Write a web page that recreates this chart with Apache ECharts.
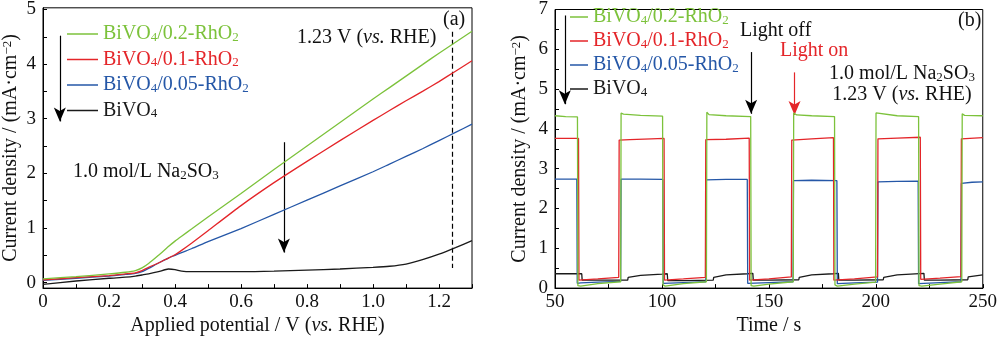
<!DOCTYPE html>
<html>
<head>
<meta charset="utf-8">
<script src="https://cdn.jsdelivr.net/npm/echarts@6/dist/echarts.min.js"></script>
<style>
html,body{margin:0;padding:0;background:#fff;}
#chart{width:1000px;height:341px;}
</style>
</head>
<body>
<div id="chart"></div>
<script>
// ---------- Data ----------
const seriesNames = ['BiVO4/0.2-RhO2', 'BiVO4/0.1-RhO2', 'BiVO4/0.05-RhO2', 'BiVO4'];
const seriesColors = ['#7cc23b', '#e42529', '#2557a7', '#1a1a1a'];
const legendLabels = {
  'BiVO4/0.2-RhO2': '{n|BiVO}{s|4}{n|/0.2-RhO}{s|2}',
  'BiVO4/0.1-RhO2': '{n|BiVO}{s|4}{n|/0.1-RhO}{s|2}',
  'BiVO4/0.05-RhO2': '{n|BiVO}{s|4}{n|/0.05-RhO}{s|2}',
  'BiVO4': '{n|BiVO}{s|4}'
};

// (a) LSV curves
const potential = [0, 0.1, 0.2, 0.25, 0.28, 0.3, 0.32, 0.35, 0.38, 0.4, 0.42, 0.45, 0.5, 0.6, 0.7, 0.8, 0.9, 1.0, 1.05, 1.1, 1.15, 1.2, 1.25, 1.3];
const lsv02 = [0.07, 0.11, 0.16, 0.19, 0.22, 0.27, 0.35, 0.5, 0.66, 0.76, 0.85, 0.98, 1.2, 1.63, 2.07, 2.5, 2.93, 3.36, 3.57, 3.78, 3.99, 4.2, 4.4, 4.6];
const lsv01 = [0.05, 0.09, 0.13, 0.16, 0.18, 0.22, 0.28, 0.36, 0.45, 0.51, 0.59, 0.72, 0.95, 1.41, 1.83, 2.22, 2.6, 2.97, 3.15, 3.33, 3.5, 3.68, 3.87, 4.06];
const lsv005 = [0.04, 0.08, 0.12, 0.15, 0.17, 0.2, 0.26, 0.36, 0.45, 0.5, 0.55, 0.62, 0.75, 0.99, 1.25, 1.51, 1.77, 2.03, 2.17, 2.31, 2.45, 2.6, 2.75, 2.9];
const lsvBare = [-0.03, 0.03, 0.08, 0.1, 0.12, 0.14, 0.16, 0.2, 0.25, 0.24, 0.21, 0.2, 0.2, 0.2, 0.21, 0.23, 0.25, 0.28, 0.3, 0.34, 0.42, 0.52, 0.64, 0.77];

// (b) chopped-light i-t curves: [time s, current mA/cm2]
const it02 = [[50,4.33],[55,4.31],[60.5,4.30],[60.7,0.06],[62,0.05],[70,0.11],[80.7,0.16],[80.9,4.40],[82,4.37],[90,4.34],[100.3,4.32],[100.5,0.08],[101.5,0.05],[110,0.11],[120.8,0.16],[121,4.42],[122,4.36],[130,4.33],[141.5,4.31],[141.7,0.06],[143,0.05],[150,0.10],[161.4,0.16],[161.6,4.40],[163,4.35],[170,4.33],[180.7,4.31],[180.9,0.08],[182,0.05],[190,0.10],[199.9,0.15],[200.1,4.40],[201,4.36],[210,4.33],[220,4.31],[220.2,0.06],[221.5,0.05],[230,0.10],[240.2,0.16],[240.4,4.38],[241.5,4.34],[250,4.33]];
const it01 = [[50,3.76],[61,3.76],[61.2,0.20],[62,0.20],[70,0.23],[79.8,0.27],[80,3.72],[85,3.73],[95,3.75],[101,3.76],[101.2,0.20],[110,0.23],[120.3,0.27],[120.5,3.73],[130,3.74],[140.8,3.77],[141,0.20],[150,0.23],[160.5,0.28],[160.7,3.72],[170,3.75],[180.2,3.78],[180.4,0.20],[190,0.23],[200.8,0.28],[201,3.75],[210,3.77],[220.8,3.79],[221,0.22],[230,0.25],[239.8,0.29],[240,3.75],[250,3.78]];
const it005 = [[50,2.74],[60.2,2.74],[60.4,0.12],[62,0.13],[70,0.15],[80.7,0.17],[80.9,2.74],[90,2.74],[100.4,2.73],[100.6,0.12],[110,0.14],[120.5,0.16],[120.7,2.72],[130,2.73],[139.9,2.73],[140.1,0.12],[150,0.14],[161.3,0.16],[161.5,2.70],[170,2.71],[181.8,2.70],[182,0.11],[190,0.13],[200.8,0.15],[201,2.67],[210,2.68],[219.8,2.69],[220,0.11],[230,0.14],[239.8,0.16],[240,2.63],[245,2.66],[250,2.67]];
const itBare = [[50,0.36],[62.5,0.36],[62.7,0.20],[70,0.20],[84,0.20],[84.2,0.27],[90,0.32],[100,0.35],[102.5,0.36],[102.7,0.19],[110,0.19],[124,0.20],[124.2,0.27],[130,0.33],[140,0.36],[142.5,0.37],[142.7,0.20],[150,0.20],[164,0.21],[164.2,0.27],[170,0.33],[180,0.36],[182.5,0.37],[182.7,0.20],[190,0.20],[203.5,0.21],[203.7,0.27],[210,0.33],[222.5,0.37],[222.7,0.20],[230,0.20],[243,0.21],[243.2,0.28],[250,0.33]];

// tick labels
const ticksAX = [0, 0.1, 0.2, 0.3, 0.4, 0.5, 0.6, 0.7, 0.8, 0.9, 1.0, 1.1, 1.2, 1.3];
const labelsAX = [0, 0.2, 0.4, 0.6, 0.8, 1.0, 1.2];
const ticksAY = [0, 0.5, 1, 1.5, 2, 2.5, 3, 3.5, 4, 4.5, 5];
const labelsAY = [0, 1, 2, 3, 4, 5];
const ticksBX = [50, 75, 100, 125, 150, 175, 200, 225, 250];
const labelsBX = [50, 100, 150, 200, 250];
const ticksBY = [0, 0.5, 1, 1.5, 2, 2.5, 3, 3.5, 4, 4.5, 5, 5.5, 6, 6.5, 7];
const labelsBY = [0, 1, 2, 3, 4, 5, 6, 7];

// annotation arrows/lines in data coordinates
const arrowsA = [[[0.051, 4.52], [0.051, 2.95]], [[0.73, 2.57], [0.73, 0.55]]];
const dashA = [[1.24, 4.59], [1.24, 0.27]];
const arrowsB = [[[54.6, 6.85], [54.6, 4.62], '#000'], [[141.7, 5.93], [141.7, 4.38], '#000'], [[162.0, 5.42], [162.0, 4.35], '#e42529']];

// ---------- Chart ----------
const FONT = 'Liberation Serif';
const TXT = '#111';
const chart = echarts.init(document.getElementById('chart'), null, {renderer: 'canvas'});

const richBase = {
  n: {fontFamily: FONT, fontSize: 20, lineHeight: 20, verticalAlign: 'middle'},
  s: {fontFamily: FONT, fontSize: 13, lineHeight: 10, verticalAlign: 'bottom'},
  i: {fontFamily: FONT, fontSize: 20, lineHeight: 20, fontStyle: 'italic', verticalAlign: 'middle'},
  sup: {fontFamily: FONT, fontSize: 13, lineHeight: 10, verticalAlign: 'top'}
};

function axisCfg(ticks, labels, fmt, margin) {
  return {
    axisLine: {show: true, onZero: false, lineStyle: {color: '#000', width: 1}},
    axisTick: {show: true, inside: true, length: 4, customValues: ticks, lineStyle: {color: '#000', width: 1}},
    axisLabel: {show: true, customValues: labels, color: TXT, fontFamily: FONT, fontSize: 19, margin: margin, formatter: fmt},
    splitLine: {show: false}
  };
}

const fmtA = v => (v === 0 ? '0' : v.toFixed(1));
const fmtInt = v => String(Math.round(v));

const yName = '{n|Current density / (mA·cm}{sup|−2}{n|)}';

const xAxes = [
  Object.assign({type: 'value', gridIndex: 0, min: 0, max: 1.3,
    name: '{n|Applied potential / V (}{i|vs.}{n| RHE)}', nameLocation: 'middle', nameGap: 26,
    nameTextStyle: {color: TXT, fontFamily: FONT, rich: richBase}}, axisCfg(ticksAX, labelsAX, fmtA, 4)),
  Object.assign({type: 'value', gridIndex: 1, min: 50, max: 250,
    name: '{n|Time / s}', nameLocation: 'middle', nameGap: 26,
    nameTextStyle: {color: TXT, fontFamily: FONT, rich: richBase}}, axisCfg(ticksBX, labelsBX, fmtInt, 4))
];
const yAxes = [
  Object.assign({type: 'value', gridIndex: 0, min: -0.1, max: 5.03,
    name: yName, nameLocation: 'middle', nameGap: 22,
    nameTextStyle: {color: TXT, fontFamily: FONT, rich: richBase}}, axisCfg(ticksAY, labelsAY, fmtInt, 7)),
  Object.assign({type: 'value', gridIndex: 1, min: 0, max: 7,
    name: yName, nameLocation: 'middle', nameGap: 25,
    nameTextStyle: {color: TXT, fontFamily: FONT, rich: richBase}}, axisCfg(ticksBY, labelsBY, fmtInt, 7))
];

const lsvSets = [lsv02, lsv01, lsv005, lsvBare];
const itSets = [it02, it01, it005, itBare];

const series = [];
lsvSets.forEach((vals, k) => {
  series.push({
    name: seriesNames[k], type: 'line', xAxisIndex: 0, yAxisIndex: 0,
    data: potential.map((p, j) => [p, vals[j]]),
    symbol: 'none', smooth: 0.2, silent: true,
    lineStyle: {color: seriesColors[k], width: 1.3},
    itemStyle: {color: seriesColors[k]}, z: 10 - k
  });
});
itSets.forEach((pts, k) => {
  series.push({
    name: seriesNames[k], type: 'line', xAxisIndex: 1, yAxisIndex: 1,
    data: pts, symbol: 'none', silent: true,
    lineStyle: {color: seriesColors[k], width: 1.3},
    itemStyle: {color: seriesColors[k]}, z: 10 - k
  });
});

// annotation marks (arrows + dashed line) attached to the BiVO4 series of each panel
series[3].markLine = {
  silent: true, animation: false,
  label: {show: false}, emphasis: {disabled: true},
  data: arrowsA.map(a => [
    {coord: a[0], symbol: 'none', lineStyle: {color: '#000', width: 1.2, type: 'solid'}},
    {coord: a[1], symbol: 'arrow', symbolSize: [9, 14]}
  ]).concat([[
    {coord: dashA[0], symbol: 'none', lineStyle: {color: '#000', width: 1.2, type: [5, 3]}},
    {coord: dashA[1], symbol: 'none'}
  ]])
};
series[7].markLine = {
  silent: true, animation: false,
  label: {show: false}, emphasis: {disabled: true},
  data: arrowsB.map(a => [
    {coord: a[0], symbol: 'none', lineStyle: {color: a[2], width: 1.2, type: 'solid'}, itemStyle: {color: a[2]}},
    {coord: a[1], symbol: 'arrow', symbolSize: [9, 14], itemStyle: {color: a[2]}}
  ])
};

function legendFor(left, top, iw, gap) {
  return {
    orient: 'vertical', left: left, top: top, itemWidth: iw, itemHeight: 1.5, itemGap: gap,
    icon: 'rect', selectedMode: false, padding: 0,
    data: seriesNames.map((n, k) => ({name: n, itemStyle: {color: seriesColors[k]}, textStyle: {color: seriesColors[k]}})),
    formatter: name => legendLabels[name],
    textStyle: {fontFamily: FONT, fontSize: 20, rich: richBase}
  };
}

function txt(x, y, text, color, align) {
  return {type: 'text', x: x, y: y, silent: true, style: {
    text: text, fill: color || TXT, rich: richBase, align: align || 'left', verticalAlign: 'middle',
    textAlign: align || 'left', textVerticalAlign: 'middle', font: '20px ' + FONT
  }};
}

const option = {
  animation: false,
  backgroundColor: '#fff',
  textStyle: {fontFamily: FONT},
  grid: [
    {left: 41, top: 7, width: 431, height: 287, show: true, borderColor: '#000', borderWidth: 1, containLabel: false},
    {left: 555, top: 7, width: 432, height: 287, show: true, borderColor: '#000', borderWidth: 1, containLabel: false}
  ],
  xAxis: xAxes,
  yAxis: yAxes,
  legend: [legendFor(67, 24, 31, 5.5), legendFor(570, 7, 18, 4)],
  series: series,
  graphic: [
    txt(297, 38, '{n|1.23 V (}{i|vs.}{n| RHE)}'),
    txt(443, 20, '{n|(a)}'),
    txt(73, 172, '{n|1.0 mol/L Na}{s|2}{n|SO}{s|3}'),
    txt(740, 31, '{n|Light off}'),
    txt(780, 51, '{n|Light on}', '#e42529'),
    txt(902, 74, '{n|1.0 mol/L Na}{s|2}{n|SO}{s|3}', TXT, 'center'),
    txt(902, 95, '{n|1.23 V (}{i|vs.}{n| RHE)}', TXT, 'center'),
    txt(958, 21, '{n|(b)}')
  ]
};
chart.setOption(option);
</script>
</body>
</html>
